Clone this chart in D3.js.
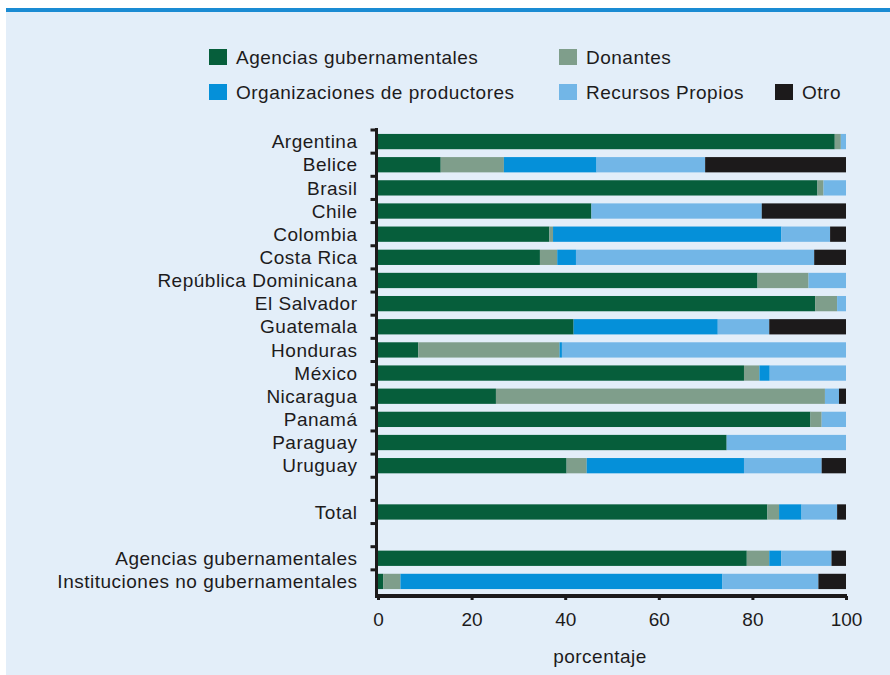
<!DOCTYPE html>
<html>
<head>
<meta charset="utf-8">
<script src="https://cdn.jsdelivr.net/npm/d3@7"></script>
<style>
  body { margin: 0; background: #ffffff; }
  svg text { font-family: "Liberation Sans", Arial, sans-serif; fill: #1d1b1c; }
</style>
</head>
<body>
<div id="chart"></div>
<script>
// categories (blank slots "gap" keep the gaps before Total and the two groups)
const categories = ["Argentina", "Belice", "Brasil", "Chile", "Colombia", "Costa Rica",
  "República Dominicana", "El Salvador", "Guatemala", "Honduras", "México", "Nicaragua",
  "Panamá", "Paraguay", "Uruguay", "gap1", "Total", "gap2",
  "Agencias gubernamentales", "Instituciones no gubernamentales"];

const seriesNames = ["Agencias gubernamentales", "Donantes", "Organizaciones de productores",
  "Recursos Propios", "Otro"];

// percentage values per series, same order as categories (null = blank slot)
const agencias =   [97.6, 13.4, 93.9, 45.6, 36.6, 34.6, 81.1, 93.4, 41.8,  8.6, 78.2, 25.2, 92.4, 74.5, 40.3, null, 83.2, null, 78.8,  1.1];
const donantes =   [ 1.3, 13.5,  1.3,  0,    0.8,  3.7, 10.9,  4.7,  0,   30.2,  3.3, 70.3,  2.4,  0,    4.3, null,  2.5, null,  4.8,  3.7];
const orgProd =    [ 0,   19.8,  0,    0,   48.8,  4.0,  0,    0,   30.8,  0.5,  2.2,  0,    0,    0,   33.6, null,  4.8, null,  2.6, 68.8];
const recursos =   [ 1.1, 23.2,  4.8, 36.4, 10.4, 50.9,  8.0,  1.9, 11.0, 60.7, 16.3,  3.0,  5.2, 25.5, 16.6, null,  7.6, null, 10.7, 20.5];
const otro =       [ 0,   30.1,  0,   18.0,  3.4,  6.8,  0,    0,   16.4,  0,    0,    1.5,  0,    0,    5.2, null,  1.9, null,  3.1,  5.9];

const xTicks = [0, 20, 40, 60, 80, 100];
const xLabel = "porcentaje";

const colors = ["#065e3b", "#7f9e8b", "#0590d9", "#72b6e7", "#1c1a1b"];

const width = 890, height = 675;
const margin = { top: 130, right: 44, bottom: 82, left: 378 };
const fontSize = "19px";
const spacing = "0.5px";

const svg = d3.select("#chart").append("svg")
  .attr("width", width).attr("height", height);

// panel background and top rule
svg.append("rect").attr("x", 6).attr("y", 9).attr("width", width - 6).attr("height", height - 9)
  .attr("fill", "#e3eef9");
svg.append("rect").attr("x", 6).attr("y", 8).attr("width", width - 6).attr("height", 4)
  .attr("fill", "#1a8bd3");

const rows = categories.map((c, i) => {
  const r = { cat: c };
  [agencias, donantes, orgProd, recursos, otro].forEach((arr, k) => { r[seriesNames[k]] = arr[i] || 0; });
  r.blank = agencias[i] === null;
  return r;
});

const x = d3.scaleLinear().domain([0, 100]).range([margin.left, width - margin.right]);
const y = d3.scaleBand().domain(categories).range([margin.top, height - margin.bottom]).paddingInner(0.34).paddingOuter(0.17);

const stack = d3.stack().keys(seriesNames)(rows.filter(r => !r.blank));

svg.append("g").selectAll("g").data(stack).join("g")
  .attr("fill", (d, i) => colors[i])
  .selectAll("rect").data(d => d).join("rect")
  .attr("x", d => x(d[0]))
  .attr("width", d => Math.max(0, x(d[1]) - x(d[0])))
  .attr("y", d => y(d.data.cat))
  .attr("height", y.bandwidth());

// y axis: thick line with ticks at slot boundaries
const step = y.step();
const y0 = margin.top, y1 = height - margin.bottom;
const axisX = margin.left - 1.5;
const bounds = d3.range(categories.length).map(i => y0 + i * step);
svg.append("g").selectAll("line").data(bounds).join("line")
  .attr("x1", axisX - 6).attr("x2", axisX)
  .attr("y1", d => d).attr("y2", d => d)
  .attr("stroke", "#1c1a1b").attr("stroke-width", 3);
svg.append("line").attr("x1", axisX).attr("x2", axisX).attr("y1", y0 - 2).attr("y2", y1 + 2)
  .attr("stroke", "#1c1a1b").attr("stroke-width", 3);

// category labels
svg.append("g").selectAll("text").data(categories.filter(c => !c.startsWith("gap"))).join("text")
  .attr("x", axisX - 19)
  .attr("y", d => y(d) + y.bandwidth() / 2)
  .attr("dy", "0.35em")
  .attr("text-anchor", "end")
  .style("font-size", fontSize)
  .style("letter-spacing", spacing)
  .text(d => d);

// x axis
const xAxis = svg.append("g").attr("transform", `translate(0,${y1 + 3})`)
  .call(d3.axisBottom(x).tickValues(xTicks).tickSize(4).tickPadding(13));
xAxis.select(".domain").attr("stroke", "#1c1a1b").attr("stroke-width", 4)
  .attr("d", `M${axisX - 1.5},0H${x(100) + 1}`);
xAxis.selectAll(".tick line").attr("stroke", "#1c1a1b").attr("stroke-width", 3);
xAxis.selectAll(".tick text").style("font-size", fontSize).attr("fill", "#1d1b1c")
  .style("font-family", "\"Liberation Sans\", Arial, sans-serif");

svg.append("text").attr("x", 600).attr("y", 663)
  .attr("text-anchor", "middle").style("font-size", fontSize)
  .style("letter-spacing", spacing).text(xLabel);

// legend
const legendPos = [
  { x: 209, y: 57 }, { x: 559, y: 57 },
  { x: 209, y: 92 }, { x: 559, y: 92 }, { x: 775, y: 92 }
];
const lg = svg.append("g").selectAll("g").data(seriesNames).join("g")
  .attr("transform", (d, i) => `translate(${legendPos[i].x},${legendPos[i].y})`);
lg.append("rect").attr("x", 0).attr("y", -8).attr("width", 18).attr("height", 16)
  .attr("fill", (d, i) => colors[i]);
lg.append("text").attr("x", 27).attr("y", 0).attr("dy", "0.35em")
  .style("font-size", fontSize).style("letter-spacing", spacing).text(d => d);
</script>
</body>
</html>
